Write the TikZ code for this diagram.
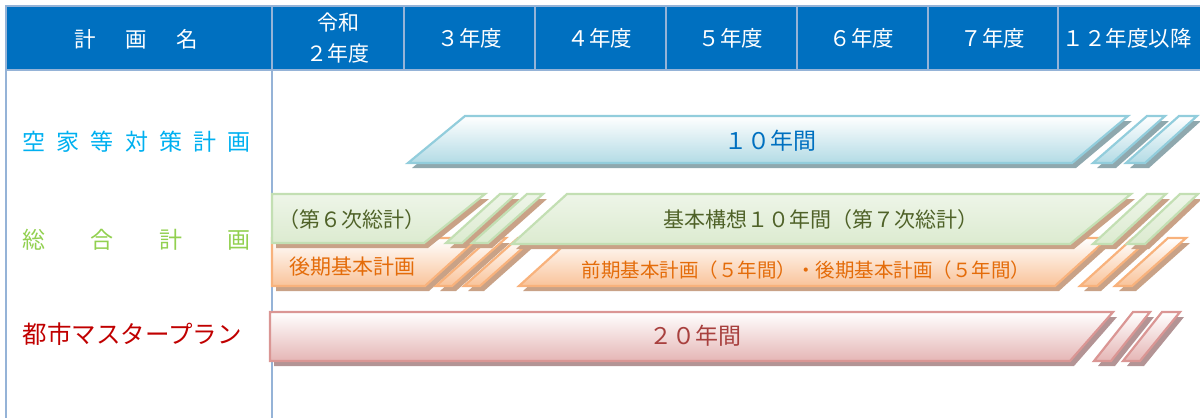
\documentclass[tikz,border=0pt]{standalone}
\usepackage{fontspec}
\setmainfont{Noto Sans CJK JP}
\definecolor{hdrblue}{HTML}{0070C0}
\definecolor{gridline}{HTML}{95B3D7}
\definecolor{bluebot}{HTML}{B3DBE5}
\definecolor{blueedge}{HTML}{92CDDC}
\definecolor{blueshd}{HTML}{8FA8AE}
\definecolor{greentop}{HTML}{EEF5E8}
\definecolor{greenbot}{HTML}{DCEBD0}
\definecolor{greenedge}{HTML}{C3DFB3}
\definecolor{brownshd}{HTML}{C9A287}
\definecolor{orangebot}{HTML}{F9C39A}
\definecolor{orangeedge}{HTML}{F8B27C}
\definecolor{redbot}{HTML}{E5B6B5}
\definecolor{redtop}{HTML}{FFFFFF}
\definecolor{rededge}{HTML}{DA9694}
\definecolor{redshd}{HTML}{B39495}
\definecolor{txtblue}{HTML}{0070C0}
\definecolor{txtgreen}{HTML}{4F6228}
\definecolor{txtorange}{HTML}{E46C0A}
\definecolor{txtred}{HTML}{A8403E}
\definecolor{lblcyan}{HTML}{00B0F0}
\definecolor{lblgreen}{HTML}{92D050}
\definecolor{lblred}{HTML}{C00000}
\newcommand{\barpoly}[3]{%
  \fill[#2,shift={(4,5)}] #1 -- cycle;
  \path[#3] #1 -- cycle;}
\begin{document}
\begin{tikzpicture}[x=1pt,y=-1pt,
  hdrtext/.style={text=white,font=\fontsize{21.5}{24}\selectfont,align=center},
  barbase/.style={line width=2.2pt,line join=miter},
  bluebar/.style={barbase,top color=white,bottom color=bluebot,draw=blueedge},
  greenbar/.style={barbase,top color=greentop,bottom color=greenbot,draw=greenedge},
  orangebar/.style={barbase,top color=white,bottom color=orangebot,draw=orangeedge},
  redbar/.style={barbase,top color=redtop,bottom color=redbot,draw=rededge},
  blueshadow/.style={fill=blueshd},
  brownshadow/.style={fill=brownshd},
  redshadow/.style={fill=redshd},
  bartext/.style={font=\fontsize{21}{24}\selectfont},
  lbl/.style={font=\fontsize{23}{26}\selectfont,anchor=west}
]
\useasboundingbox (0,0) rectangle (1200,418);
% header
\fill[hdrblue] (6,6) rectangle (1202,70);
\draw[gridline,line width=2pt] (1202,6) -- (6,6) -- (6,418);
\draw[gridline,line width=2pt] (6,70) -- (1202,70);
\draw[gridline,line width=2pt] (272,6) -- (272,418);
\foreach \xx in {404,535,666,797,928,1058} \draw[gridline,line width=2pt] (\xx,6) -- (\xx,70);
\node[hdrtext] (h0) at (136,39) {\makebox[124pt]{計\hfill 画\hfill 名}};
\node[hdrtext,font=\fontsize{21}{31}\selectfont] (h1) at (338,38) {令和\\２年度};
\node[hdrtext] (h2) at (470,38) {３年度};
\node[hdrtext] (h3) at (600,38) {４年度};
\node[hdrtext] (h4) at (731,38) {５年度};
\node[hdrtext] (h5) at (862,38) {６年度};
\node[hdrtext] (h6) at (993,38) {７年度};
\node[hdrtext] (h7) at (1127,38) {１２年度以降};
% left labels
\node[lbl,text=lblcyan] (l1) at (19,142) {\makebox[228pt]{空\hfill 家\hfill 等\hfill 対\hfill 策\hfill 計\hfill 画}};
\node[lbl,text=lblgreen] (l2) at (19,240) {\makebox[228pt]{総\hfill 合\hfill 計\hfill 画}};
\node[lbl,text=lblred,font=\fontsize{24.5}{28}\selectfont] (l3) at (19,334) {都市マスタープラン};
% blue bars
\barpoly{(465,116) -- (1128,116) -- (1072,163) -- (408,163)}{blueshadow}{bluebar}
\barpoly{(1147,116) -- (1165,116) -- (1112,163) -- (1093,163)}{blueshadow}{bluebar}
\barpoly{(1179,116) -- (1197,116) -- (1145,163) -- (1126,163)}{blueshadow}{bluebar}
\node[bartext,text=txtblue,font=\fontsize{23}{26}\selectfont] (t1) at (770,141) {１０年間};
% orange bars
\barpoly{(272,238) -- (478,238) -- (425,286) -- (272,286)}{brownshadow}{orangebar}
\barpoly{(490,238) -- (506,238) -- (452,286) -- (436,286)}{brownshadow}{orangebar}
\barpoly{(518,238) -- (534,238) -- (480,286) -- (464,286)}{brownshadow}{orangebar}
\barpoly{(572,238) -- (1108,238) -- (1055,286) -- (519,286)}{brownshadow}{orangebar}
\barpoly{(1133,238) -- (1150,238) -- (1097,286) -- (1080,286)}{brownshadow}{orangebar}
\barpoly{(1168,238) -- (1186,238) -- (1132,286) -- (1115,286)}{brownshadow}{orangebar}
% green bars
\barpoly{(272,194) -- (485,194) -- (424,243) -- (272,243)}{brownshadow}{greenbar}
\barpoly{(500,194) -- (516,194) -- (462,243) -- (446,243)}{brownshadow}{greenbar}
\barpoly{(527,194) -- (543,194) -- (488,243) -- (472,243)}{brownshadow}{greenbar}
\barpoly{(567,194) -- (1131,194) -- (1070,244) -- (512,244)}{brownshadow}{greenbar}
\barpoly{(1147,194) -- (1166,194) -- (1112,244) -- (1093,244)}{brownshadow}{greenbar}
\barpoly{(1180,194) -- (1198,194) -- (1145,244) -- (1127,244)}{brownshadow}{greenbar}
\node[bartext,text=txtgreen] (t2) at (352,220) {（第６次総計）};
\node[bartext,text=txtgreen] (t3) at (821,220) {基本構想１０年間（第７次総計）};
\node[bartext,text=txtorange] (t4) at (352,267) {後期基本計画};
\node[bartext,text=txtorange,font=\fontsize{19.5}{22}\selectfont] (t5) at (806,270) {前期基本計画（５年間）・後期基本計画（５年間）};
% red bars
\barpoly{(270,312) -- (1113,312) -- (1070,361) -- (270,361)}{redshadow}{redbar}
\barpoly{(1133,312) -- (1150,312) -- (1111,361) -- (1094,361)}{redshadow}{redbar}
\barpoly{(1162,312) -- (1180,312) -- (1140,361) -- (1123,361)}{redshadow}{redbar}
\node[bartext,text=txtred,font=\fontsize{23}{26}\selectfont] (t6) at (695,336) {２０年間};
\end{tikzpicture}
\end{document}
